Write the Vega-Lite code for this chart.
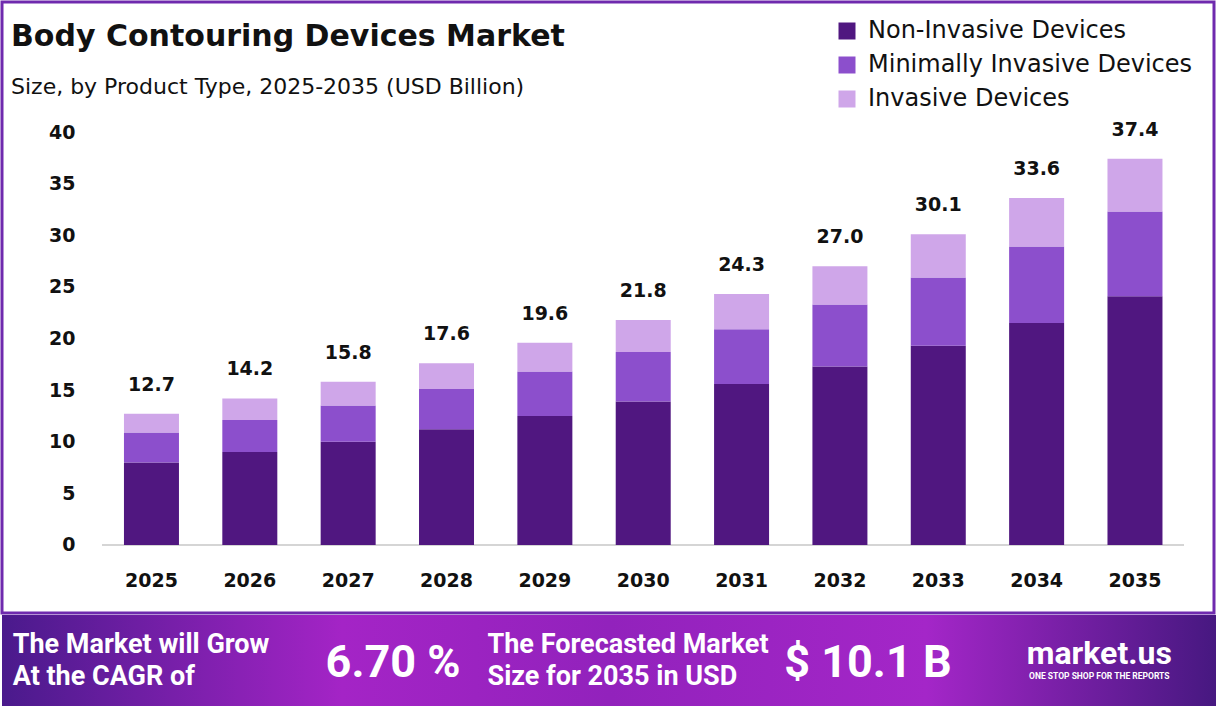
{
  "$schema": "https://vega.github.io/schema/vega-lite/v6.json",
  "padding": 0,
  "spacing": 0,
  "background": "white",
  "config": {
    "view": {"stroke": null},
    "font": "DejaVu Sans"
  },
  "datasets": {
    "market": [
      {"year": "2025", "type": "Non-Invasive Devices", "value": 8.0},
      {"year": "2025", "type": "Minimally Invasive Devices", "value": 2.9},
      {"year": "2025", "type": "Invasive Devices", "value": 1.8},
      {"year": "2026", "type": "Non-Invasive Devices", "value": 9.0},
      {"year": "2026", "type": "Minimally Invasive Devices", "value": 3.1},
      {"year": "2026", "type": "Invasive Devices", "value": 2.1},
      {"year": "2027", "type": "Non-Invasive Devices", "value": 10.0},
      {"year": "2027", "type": "Minimally Invasive Devices", "value": 3.5},
      {"year": "2027", "type": "Invasive Devices", "value": 2.3},
      {"year": "2028", "type": "Non-Invasive Devices", "value": 11.2},
      {"year": "2028", "type": "Minimally Invasive Devices", "value": 3.9},
      {"year": "2028", "type": "Invasive Devices", "value": 2.5},
      {"year": "2029", "type": "Non-Invasive Devices", "value": 12.5},
      {"year": "2029", "type": "Minimally Invasive Devices", "value": 4.3},
      {"year": "2029", "type": "Invasive Devices", "value": 2.8},
      {"year": "2030", "type": "Non-Invasive Devices", "value": 13.9},
      {"year": "2030", "type": "Minimally Invasive Devices", "value": 4.8},
      {"year": "2030", "type": "Invasive Devices", "value": 3.1},
      {"year": "2031", "type": "Non-Invasive Devices", "value": 15.6},
      {"year": "2031", "type": "Minimally Invasive Devices", "value": 5.3},
      {"year": "2031", "type": "Invasive Devices", "value": 3.4},
      {"year": "2032", "type": "Non-Invasive Devices", "value": 17.3},
      {"year": "2032", "type": "Minimally Invasive Devices", "value": 6.0},
      {"year": "2032", "type": "Invasive Devices", "value": 3.7},
      {"year": "2033", "type": "Non-Invasive Devices", "value": 19.3},
      {"year": "2033", "type": "Minimally Invasive Devices", "value": 6.6},
      {"year": "2033", "type": "Invasive Devices", "value": 4.2},
      {"year": "2034", "type": "Non-Invasive Devices", "value": 21.5},
      {"year": "2034", "type": "Minimally Invasive Devices", "value": 7.4},
      {"year": "2034", "type": "Invasive Devices", "value": 4.7},
      {"year": "2035", "type": "Non-Invasive Devices", "value": 24.1},
      {"year": "2035", "type": "Minimally Invasive Devices", "value": 8.2},
      {"year": "2035", "type": "Invasive Devices", "value": 5.1}
    ],
    "banner": [
      {"item": "cagrLabel", "role": "caption", "label": "The Market will Grow\nAt the CAGR of"},
      {"item": "cagr", "role": "figure", "label": "6.70 %"},
      {"item": "sizeLabel", "role": "caption", "label": "The Forecasted Market\nSize for 2035 in USD"},
      {"item": "size", "role": "figure", "label": "$ 10.1 B"},
      {"item": "brand", "role": "brand", "label": "market.us"},
      {"item": "brand", "role": "tagline", "label": "ONE STOP SHOP FOR THE REPORTS"}
    ]
  },
  "vconcat": [
    {
      "width": 1212,
      "height": 611,
      "view": {"stroke": "#6f2aae", "strokeWidth": 3},
      "title": {
        "text": "Body Contouring Devices Market",
        "subtitle": "Size, by Product Type, 2025-2035 (USD Billion)",
        "anchor": "start",
        "frame": "group",
        "offset": -96,
        "dx": 9,
        "font": "DejaVu Sans",
        "fontSize": 30,
        "fontWeight": "bold",
        "color": "#111111",
        "subtitleFont": "DejaVu Sans",
        "subtitleFontSize": 22,
        "subtitleColor": "#111111",
        "subtitlePadding": 25
      },
      "data": {"name": "market"},
      "encoding": {
        "x": {
          "field": "year",
          "type": "ordinal",
          "scale": {"paddingInner": 0.4408, "paddingOuter": 0.882, "align": 0.703},
          "axis": {
            "title": null,
            "orient": "bottom",
            "offset": -68,
            "domain": false,
            "ticks": false,
            "tickSize": 0,
            "labelAngle": 0,
            "labelPadding": 26,
            "labelFont": "DejaVu Sans",
            "labelFontSize": 19,
            "labelFontWeight": "bold",
            "labelColor": "#111111"
          }
        }
      },
      "layer": [
        {
          "mark": {"type": "rule", "color": "#d4d4d4", "strokeWidth": 1.5},
          "encoding": {
            "x": {"datum": "2025", "bandPosition": -0.4},
            "x2": {"datum": "2035", "bandPosition": 1.38},
            "y": {"datum": 0, "type": "quantitative", "scale": {"domain": [-6.586, 52.591], "nice": false, "zero": false}}
          }
        },
        {
          "mark": {"type": "bar"},
          "encoding": {
            "y": {
              "field": "value",
              "type": "quantitative",
              "stack": "zero",
              "scale": {"domain": [-6.586, 52.591], "nice": false, "zero": false},
              "axis": {
                "title": null,
                "orient": "left",
                "offset": -73,
                "values": [0, 5, 10, 15, 20, 25, 30, 35, 40],
                "grid": false,
                "domain": false,
                "ticks": false,
                "tickSize": 0,
                "labelPadding": 0,
                "labelFont": "DejaVu Sans",
                "labelFontSize": 19,
                "labelFontWeight": "bold",
                "labelColor": "#111111"
              }
            },
            "color": {
              "field": "type",
              "type": "nominal",
              "scale": {
                "domain": ["Non-Invasive Devices", "Minimally Invasive Devices", "Invasive Devices"],
                "range": ["#501780", "#8c4fcc", "#cfa6e9"]
              },
              "legend": {
                "title": null,
                "orient": "none",
                "legendX": 833,
                "legendY": 17,
                "padding": 0,
                "symbolType": "square",
                "symbolSize": 289,
                "symbolStrokeWidth": 0,
                "labelFont": "DejaVu Sans",
                "labelFontSize": 24,
                "labelColor": "#111111",
                "labelOffset": 9,
                "labelLimit": 500,
                "rowPadding": 10
              }
            },
            "order": {"field": "type", "sort": "descending"}
          }
        },
        {
          "transform": [
            {"aggregate": [{"op": "sum", "field": "value", "as": "total"}], "groupby": ["year"]}
          ],
          "mark": {
            "type": "text",
            "baseline": "alphabetic",
            "dy": -23,
            "font": "DejaVu Sans",
            "fontSize": 19,
            "fontWeight": "bold",
            "color": "#111111"
          },
          "encoding": {
            "y": {"field": "total", "type": "quantitative", "scale": {"domain": [-6.586, 52.591], "nice": false, "zero": false}},
            "text": {"field": "total", "type": "quantitative", "format": ".1f"}
          }
        }
      ]
    },
    {
      "width": 1216,
      "height": 95,
      "layer": [
        {
          "data": {"values": [{"panel": "banner"}]},
          "mark": {
            "type": "rect",
            "color": {
              "gradient": "linear",
              "x1": 0, "x2": 1, "y1": 0, "y2": 0,
              "stops": [
                {"offset": 0, "color": "#4a1a8c"},
                {"offset": 0.28, "color": "#a424c6"},
                {"offset": 0.5, "color": "#9222bc"},
                {"offset": 0.76, "color": "#a426c8"},
                {"offset": 1, "color": "#461880"}
              ]
            }
          },
          "encoding": {}
        },
        {
          "data": {"name": "banner"},
          "encoding": {
            "x": {
              "field": "item",
              "type": "nominal",
              "scale": {"type": "band", "domain": ["cagrLabel", "cagr", "sizeLabel", "size", "brand"], "paddingInner": 0, "paddingOuter": 0.0611, "align": 1},
              "axis": null
            },
            "text": {"field": "label"}
          },
          "layer": [
            {
              "transform": [{"filter": "datum.role === 'caption'"}],
              "mark": {
                "type": "text",
                "align": "left",
                "baseline": "middle",
                "dx": -137,
                "dy": -18,
                "lineBreak": "\n",
                "lineHeight": 32,
                "font": "Roboto",
                "fontSize": 27,
                "fontWeight": "bold",
                "color": "white"
              }
            },
            {
              "transform": [{"filter": "datum.role === 'figure'"}],
              "mark": {
                "type": "text",
                "align": "center",
                "baseline": "middle",
                "dx": 6,
                "font": "Roboto",
                "fontSize": 45,
                "fontWeight": "bold",
                "color": "white"
              }
            },
            {
              "transform": [{"filter": "datum.role === 'brand'"}],
              "mark": {
                "type": "text",
                "align": "center",
                "baseline": "alphabetic",
                "dy": 1,
                "font": "Roboto",
                "fontSize": 32,
                "fontWeight": "bold",
                "color": "white"
              }
            },
            {
              "transform": [{"filter": "datum.role === 'tagline'"}],
              "mark": {
                "type": "text",
                "align": "center",
                "baseline": "middle",
                "dy": 13,
                "font": "Roboto",
                "fontSize": 8.5,
                "fontWeight": "bold",
                "color": "white"
              }
            }
          ]
        }
      ]
    }
  ]
}
